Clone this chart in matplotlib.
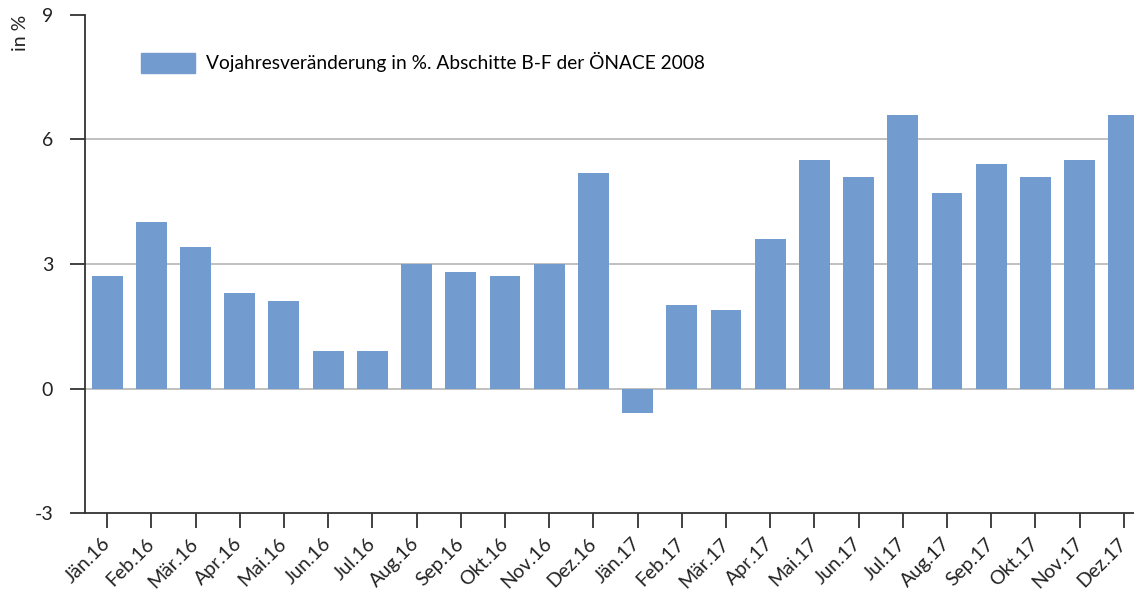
import matplotlib.pyplot as plt
from matplotlib.patches import Patch

plt.rcParams['font.family'] = ['Lato', 'DejaVu Sans']

months = ['Jän.16', 'Feb.16', 'Mär.16', 'Apr.16', 'Mai.16', 'Jun.16', 'Jul.16', 'Aug.16',
          'Sep.16', 'Okt.16', 'Nov.16', 'Dez.16', 'Jän.17', 'Feb.17', 'Mär.17', 'Apr.17',
          'Mai.17', 'Jun.17', 'Jul.17', 'Aug.17', 'Sep.17', 'Okt.17', 'Nov.17', 'Dez.17']
values = [2.7, 4.0, 3.4, 2.3, 2.1, 0.9, 0.9, 3.0, 2.8, 2.7, 3.0, 5.2,
          -0.6, 2.0, 1.9, 3.6, 5.5, 5.1, 6.6, 4.7, 5.4, 5.1, 5.5, 6.6]
yticks = [-3, 0, 3, 6, 9]
label = 'Vojahresveränderung in %. Abschitte B-F der ÖNACE 2008'

fig = plt.figure(figsize=(11.34, 5.90), dpi=100)
ax = fig.add_axes([0.075, 0.1305, 0.925, 0.8441])

x = list(range(len(months)))
ax.bar(x, values, width=0.7, color='#729ccf', zorder=3)

ax.set_ylim(-3, 9)
ax.set_xlim(-0.5, 23.23)
ax.set_yticks(yticks)
ax.set_yticklabels([str(t) for t in yticks], fontsize=14, color='#222222')
ax.set_xticks(x)
ax.set_xticklabels(months, rotation=45, ha='right', va='center', rotation_mode='anchor',
                   fontsize=14, color='#222222')

for t in [0, 3, 6]:
    ax.axhline(t, color='#bbbbbb', lw=1.3, zorder=1)

for s in ['top', 'right']:
    ax.spines[s].set_visible(False)
ax.spines['left'].set_color('#333333')
ax.spines['bottom'].set_color('#333333')
ax.spines['left'].set_linewidth(1.3)
ax.spines['bottom'].set_linewidth(1.3)
ax.tick_params(axis='y', length=11, width=1.3, color='#333333', pad=12)
ax.tick_params(axis='x', length=11, width=1.3, color='#333333', pad=9)

fig.text(0.018, 0.975, 'in %', rotation=90, ha='center', va='top', fontsize=14, color='#222222')

ax.legend(handles=[Patch(color='#729ccf', label=label)], loc='upper left',
          bbox_to_anchor=(0.037, 0.96), frameon=False, fontsize=13.8,
          handlelength=2.8, handleheight=1.2, handletextpad=0.6)

fig.savefig('out.png', dpi=100)
